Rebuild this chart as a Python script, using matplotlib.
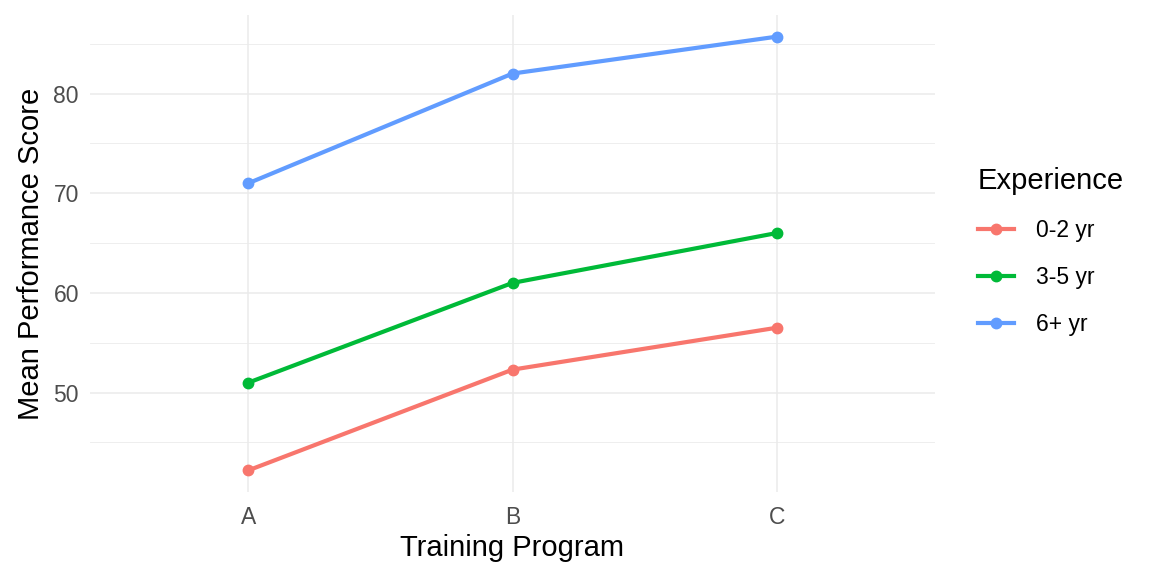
import matplotlib
matplotlib.use("Agg")
import matplotlib.pyplot as plt
from matplotlib.lines import Line2D

plt.rcParams['font.family'] = ['Liberation Sans', 'DejaVu Sans']

programs = ["A", "B", "C"]
groups = ["0-2 yr", "3-5 yr", "6+ yr"]
colors = ["#F8766D", "#00BA38", "#619CFF"]
scores = {
    "0-2 yr": [42.2, 52.3, 56.5],
    "3-5 yr": [51.0, 61.0, 66.0],
    "6+ yr": [71.0, 82.0, 85.7],
}
yticks = [50, 60, 70, 80]
yminor = [45, 55, 65, 75, 85]

fig = plt.figure(figsize=(11.52, 5.76), dpi=100)
ax = fig.add_axes([90/1152, 84/576, (935-90)/1152, (492-15)/576])

x = list(range(1, len(programs)+1))
for g, c in zip(groups, colors):
    ax.plot(x, scores[g], color=c, lw=3.0, marker='o', ms=7.5, solid_capstyle='butt', zorder=3)

allv = [v for g in groups for v in scores[g]]
lo, hi = min(allv), max(allv)
pad = (hi - lo) * 0.05
ax.set_ylim(lo - pad, hi + pad)
ax.set_xlim(0.4, 3.6)
ax.set_xticks(x)
ax.set_xticklabels(programs)
ax.set_yticks(yticks)
ax.set_yticks(yminor, minor=True)
ax.grid(which='major', color='#EBEBEB', lw=1.1)
ax.grid(which='minor', axis='y', color='#EBEBEB', lw=0.6)
ax.set_axisbelow(True)
for s in ax.spines.values():
    s.set_visible(False)
ax.tick_params(axis='x', which='both', length=0, labelsize=16.5, labelcolor='#4D4D4D', pad=10)
ax.tick_params(axis='y', which='both', length=0, labelsize=16.5, labelcolor='#4D4D4D', pad=8)
ax.set_xlabel("Training Program", fontsize=21, labelpad=4)
ax.set_ylabel("Mean Performance Score", fontsize=21, labelpad=6)

handles = [Line2D([0], [0], color=c, lw=3.0, marker='o', ms=7.5) for c in colors]
leg = fig.legend(handles, groups, title="Experience", loc='upper left',
                 bbox_to_anchor=(957/1152, 1 - 146/576), frameon=False,
                 fontsize=16.5, title_fontsize=21, handlelength=1.6,
                 labelspacing=1.05, handletextpad=0.95, alignment='left')

fig.savefig("out.png", dpi=100)
